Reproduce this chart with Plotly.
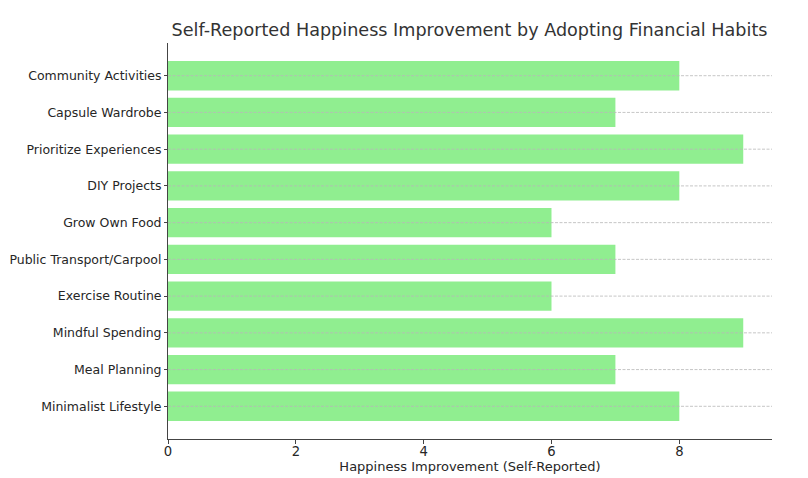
import plotly.graph_objects as go

habits = [
    'Minimalist Lifestyle',
    'Meal Planning',
    'Mindful Spending',
    'Exercise Routine',
    'Public Transport/Carpool',
    'Grow Own Food',
    'DIY Projects',
    'Prioritize Experiences',
    'Capsule Wardrobe',
    'Community Activities',
]
happiness = [8, 7, 9, 6, 7, 6, 8, 9, 7, 8]
x_ticks = [0, 2, 4, 6, 8]

fig = go.Figure()
fig.add_trace(go.Bar(
    y=list(range(len(habits))), x=happiness, orientation='h',
    width=0.8, marker_color='#90EE90', marker_line_width=0,
))

# matplotlib draws the dashed y grid over the bars, so do it with shapes
for i in range(len(habits)):
    fig.add_shape(type='line', xref='paper', yref='y', x0=0, x1=1, y0=i, y1=i,
                  line=dict(color='#b8b8b8', width=0.8, dash='3px,1.5px'), layer='above')

# page body has an 8px margin, margins below account for it
fig.update_layout(
    width=808, height=478,
    margin=dict(l=160, r=44, t=35, b=47),
    plot_bgcolor='white', paper_bgcolor='white',
    font=dict(family='DejaVu Sans', size=12.5, color='#262626'),
    title=dict(text='Self-Reported Happiness Improvement by Adopting Financial Habits',
               x=0.5712, xanchor='center', y=0.954, yanchor='middle',
               font=dict(size=17.6, color='#333333')),
    showlegend=False,
)
fig.update_xaxes(
    range=[0, 9.45], tickvals=x_ticks, showgrid=False, zeroline=False, automargin=False,
    showline=True, linecolor='#444444', linewidth=1,
    ticks='outside', ticklen=4, tickcolor='#444444', ticklabelstandoff=-4,
    tickfont=dict(size=13.2),
    title=dict(text='Happiness Improvement (Self-Reported)', standoff=4, font=dict(size=13)),
)
fig.update_yaxes(
    range=[-0.89, 9.89], tickvals=list(range(len(habits))), ticktext=habits,
    showgrid=False, zeroline=False, automargin=False,
    showline=True, linecolor='#444444', linewidth=1,
    ticks='outside', ticklen=3, tickcolor='#444444', layer='above traces',
    ticklabelstandoff=0,
)

fig.write_html('out.html')
